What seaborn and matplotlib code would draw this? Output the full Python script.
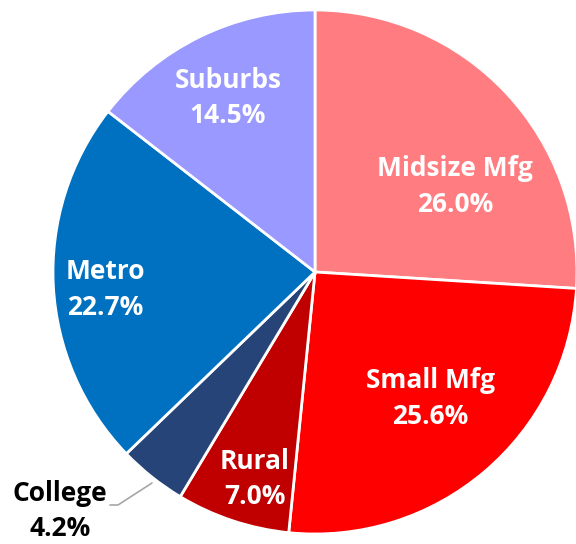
import seaborn as sns
import matplotlib.pyplot as plt

sns.set_theme(style="white")
plt.rcParams['font.family'] = ['Open Sans', 'DejaVu Sans']

segments = ["Midsize Mfg", "Small Mfg", "Rural", "College", "Metro", "Suburbs"]
shares = [26.0, 25.6, 7.0, 4.2, 22.7, 14.5]
colors = ["#FF7C80", "#FF0000", "#C00000", "#264478", "#0070C0", "#9999FF"]

# label centres in data units (pie radius = 1)
label_pos = [(0.534, 0.325), (0.439, -0.482), (-0.229, -0.79),
             (-0.973, -0.912), (-0.802, -0.066), (-0.332, 0.664)]

W, H = 576, 544
cx, cy, r = 315, 272, 262

fig = plt.figure(figsize=(W / 100, H / 100), dpi=100)
ax = fig.add_axes([0, 0, 1, 1])

ax.pie(shares, colors=colors, startangle=90, counterclock=False,
       wedgeprops=dict(edgecolor="white", linewidth=2), radius=1)

for name, val, (x, y) in zip(segments, shares, label_pos):
    txt = f"{name}\n{val:.1f}%"
    col = "black" if name == "College" else "white"
    ax.text(x, y, txt, ha="center", va="center", fontsize=19,
            fontweight="bold", color=col, linespacing=1.42)

# leader line for the outside label
ax.plot([(110 - cx) / r, (118 - cx) / r, (152 - cx) / r],
        [(cy - 505) / r, (cy - 505) / r, (cy - 483) / r],
        color="#A6A6A6", lw=1.2)

ax.set_xlim(-cx / r, (W - cx) / r)
ax.set_ylim(-(H - cy) / r, cy / r)
ax.set_aspect("auto")
ax.axis("off")

fig.savefig("out.png", dpi=100)
